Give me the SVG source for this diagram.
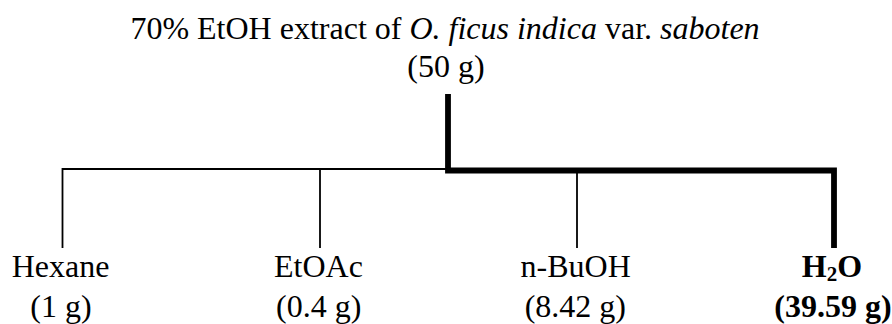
<svg xmlns="http://www.w3.org/2000/svg" width="892" height="324" viewBox="0 0 892 324">
<style>
text{font-family:"Liberation Serif","Times New Roman",serif;font-size:32px;fill:#000;text-anchor:middle}
.i{font-style:italic}
.b{font-weight:bold}
.thin{fill:none;stroke:#000;stroke-width:1.8}
.thick{fill:none;stroke:#000;stroke-width:5.8;stroke-linejoin:miter}
</style>
<rect width="892" height="324" fill="#fff"/>
<g id="connectors">
<path class="thin" d="M448,169 H62.5 V248"/>
<path class="thin" d="M320,169 V248"/>
<path class="thin" d="M577,169 V248"/>
<path class="thick" d="M448,94 V170.5 H834 V248"/>
</g>
<g id="extract">
<text x="445" y="39.3">70% EtOH extract of <tspan class="i">O. ficus indica</tspan> var. <tspan class="i">saboten</tspan></text>
<text x="446" y="77">(50 g)</text>
</g>
<g id="hexane">
<text x="60.5" y="276.7">Hexane</text>
<text x="61" y="317">(1 g)</text>
</g>
<g id="etoac">
<text x="318.5" y="276.7">EtOAc</text>
<text x="318.7" y="317">(0.4 g)</text>
</g>
<g id="nbuoh">
<text x="575.7" y="276.7">n-BuOH</text>
<text x="575.3" y="317">(8.42 g)</text>
</g>
<g id="h2o">
<text class="b" x="832" y="276.7">H<tspan font-size="21" dy="4">2</tspan><tspan dy="-4">O</tspan></text>
<text class="b" x="833" y="317">(39.59 g)</text>
</g>
</svg>
